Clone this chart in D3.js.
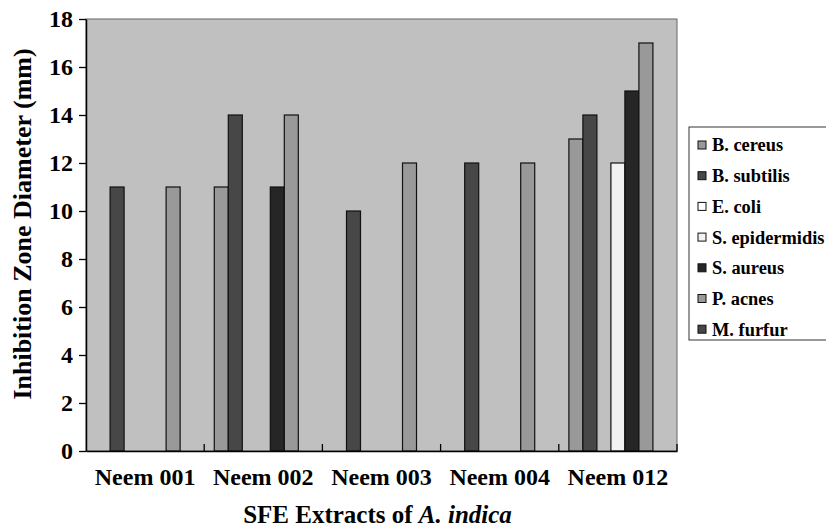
<!DOCTYPE html>
<html>
<head>
<meta charset="utf-8">
<script src="https://cdn.jsdelivr.net/npm/d3@7"></script>
<style>
  body { margin: 0; background: #fff; }
  svg { display: block; font-family: "Liberation Serif", "Times New Roman", serif; font-weight: bold; }
</style>
</head>
<body>
<script>
// data
var extracts = ["Neem 001", "Neem 002", "Neem 003", "Neem 004", "Neem 012"];
var species = ["B. cereus", "B. subtilis", "E. coli", "S. epidermidis", "S. aureus", "P. acnes", "M. furfur"];
var bCereus      = [0, 11, 0, 0, 13];
var bSubtilis    = [11, 14, 10, 12, 14];
var eColi        = [0, 0, 0, 0, 0];
var sEpidermidis = [0, 0, 0, 0, 12];
var sAureus      = [0, 11, 0, 0, 15];
var pAcnes       = [11, 14, 12, 12, 17];
var mFurfur      = [0, 0, 0, 0, 0];
var yTicks = [0, 2, 4, 6, 8, 10, 12, 14, 16, 18];

var seriesValues = [bCereus, bSubtilis, eColi, sEpidermidis, sAureus, pAcnes, mFurfur];
var fills = ["#999999", "#474747", "#ffffff", "#f2f2f2", "#262626", "#999999", "#474747"];

var width = 826, height = 529;
// note: "top" is a reserved window property, so use plot* names
var plotLeft = 86, plotRight = 677, plotTop = 19, plotBottom = 451;

var svg = d3.select("body").append("svg")
    .attr("width", width)
    .attr("height", height);

var x0 = d3.scaleBand().domain(extracts).range([plotLeft, plotRight]).paddingInner(0).paddingOuter(0);
var x1 = d3.scaleBand().domain(species).range([0, x0.bandwidth()]).paddingInner(0).paddingOuter(0.72);
var y = d3.scaleLinear().domain([0, 18]).range([plotBottom, plotTop]);

// plot area
svg.append("rect")
    .attr("x", plotLeft).attr("y", plotTop)
    .attr("width", plotRight - plotLeft).attr("height", plotBottom - plotTop)
    .attr("fill", "#c0c0c0")
    .attr("stroke", "#666")
    .attr("stroke-width", 1);

// bars
var rows = [];
extracts.forEach(function(e, i) {
    species.forEach(function(s, j) {
        if (seriesValues[j][i] > 0) rows.push({extract: e, sp: s, idx: j, value: seriesValues[j][i]});
    });
});

svg.append("g").selectAll("rect")
    .data(rows)
    .enter().append("rect")
    .attr("x", function(d) { return x0(d.extract) + x1(d.sp); })
    .attr("y", function(d) { return y(d.value); })
    .attr("width", x1.bandwidth())
    .attr("height", function(d) { return y(0) - y(d.value); })
    .attr("fill", function(d) { return fills[d.idx]; })
    .attr("stroke", "#111")
    .attr("stroke-width", 1.2);

// y axis
var yAxis = svg.append("g")
    .attr("transform", "translate(" + plotLeft + ",0)")
    .call(d3.axisLeft(y).tickValues(yTicks).tickSize(7).tickPadding(6).tickSizeOuter(0));
yAxis.select(".domain").attr("stroke", "#000").attr("stroke-width", 1.5);
yAxis.selectAll(".tick line").attr("stroke", "#000").attr("stroke-width", 1.3);
yAxis.selectAll("text")
    .attr("font-size", 24)
    .attr("font-family", "Liberation Serif, serif")
    .attr("font-weight", "bold")
    .attr("fill", "#000");

// x axis: labels at band centres, ticks between bands pointing up
var xAxis = svg.append("g")
    .attr("transform", "translate(0," + plotBottom + ")")
    .call(d3.axisBottom(x0).tickSize(0).tickPadding(17));
xAxis.select(".domain").attr("stroke", "#000").attr("stroke-width", 1.5);
xAxis.selectAll("text")
    .attr("font-size", 24)
    .attr("font-family", "Liberation Serif, serif")
    .attr("font-weight", "bold")
    .attr("fill", "#000");

var splits = extracts.map(function(e) { return x0(e) + x0.bandwidth(); });
svg.append("g").selectAll("line")
    .data(splits)
    .enter().append("line")
    .attr("x1", function(d) { return d; })
    .attr("x2", function(d) { return d; })
    .attr("y1", plotBottom)
    .attr("y2", plotBottom - 7)
    .attr("stroke", "#000")
    .attr("stroke-width", 1.3);

// axis titles
svg.append("text")
    .attr("transform", "translate(31,224) rotate(-90)")
    .attr("text-anchor", "middle")
    .attr("font-size", 26)
    .text("Inhibition Zone Diameter (mm)");

var xt = svg.append("text")
    .attr("x", (plotLeft + plotRight) / 2 - 4)
    .attr("y", 523)
    .attr("text-anchor", "middle")
    .attr("font-size", 25);
xt.append("tspan").text("SFE Extracts of ");
xt.append("tspan").attr("font-style", "italic").text("A. indica");

// legend (box runs off the right edge like the original)
var legend = svg.append("g").attr("transform", "translate(689,127)");
legend.append("rect")
    .attr("width", 200).attr("height", 213)
    .attr("fill", "#fff")
    .attr("stroke", "#333")
    .attr("stroke-width", 1);

var item = legend.selectAll(".item")
    .data(species)
    .enter().append("g")
    .attr("class", "item")
    .attr("transform", function(d, i) { return "translate(0," + (18 + i * 30.7) + ")"; });

item.append("rect")
    .attr("x", 9).attr("y", -4)
    .attr("width", 8).attr("height", 8)
    .attr("fill", function(d, i) { return fills[i]; })
    .attr("stroke", "#111")
    .attr("stroke-width", 1);

item.append("text")
    .attr("x", 23)
    .attr("dy", "0.35em")
    .attr("font-size", 18.4)
    .text(function(d) { return d; });
</script>
</body>
</html>
